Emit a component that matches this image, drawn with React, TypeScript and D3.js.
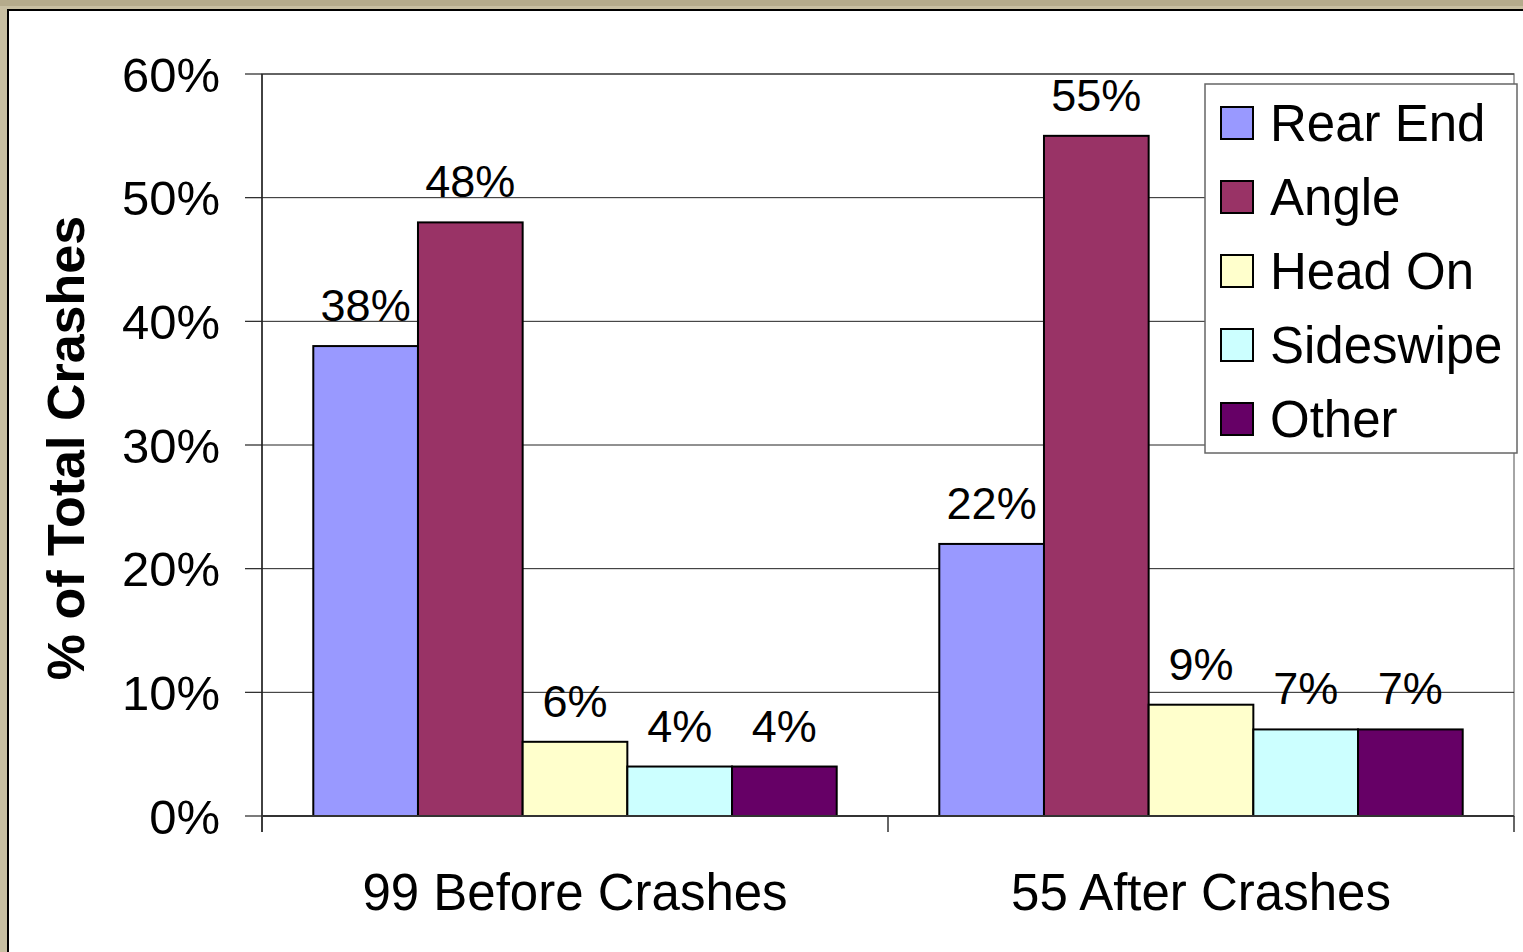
import React from "react";
import * as d3 from "d3";

const categories = ["99 Before Crashes", "55 After Crashes"];
const seriesNames = ["Rear End", "Angle", "Head On", "Sideswipe", "Other"];
const seriesColors = ["#9999FF", "#993366", "#FFFFCC", "#CCFFFF", "#660066"];
const beforeValues = [38, 48, 6, 4, 4];
const afterValues = [22, 55, 9, 7, 7];
const yTicks = [0, 10, 20, 30, 40, 50, 60];

const FONT = "'Liberation Sans', Arial, sans-serif";

export default function App() {
  const W = 1523, H = 952;
  const left = 262, right = 1514, top = 74, bottom = 816;
  const y = d3.scaleLinear().domain([0, 60]).range([bottom, top]);
  const x0 = d3.scaleBand().domain(categories).range([left, right]).paddingInner(0).paddingOuter(0);
  const x1 = d3.scaleBand().domain(seriesNames).range([0, x0.bandwidth()]).paddingInner(0).paddingOuter(0.49);
  const values = [beforeValues, afterValues];

  return (
    <svg width={W} height={H} style={{ position: "absolute", left: 0, top: 0 }} fontFamily={FONT}>
      <rect x={0} y={0} width={W} height={H} fill="#C8BFA2" />
      <rect x={0} y={0} width={W} height={6} fill="#B5AB8C" />
      <rect x={8} y={10} width={W} height={H} fill="#FFFFFF" stroke="#000" strokeWidth={2} />
      <rect x={left} y={top} width={right - left} height={bottom - top} fill="none" stroke="#888" strokeWidth={1.5} />
      {yTicks.map((t) => (
        <g key={t}>
          <line x1={left} x2={right} y1={y(t)} y2={y(t)} stroke="#222" strokeWidth={1} />
          <line x1={245} x2={left} y1={y(t)} y2={y(t)} stroke="#222" strokeWidth={1.2} />
          <text x={220} y={y(t)} dy="0.36em" textAnchor="end" fontSize={49} fill="#000">{t}%</text>
        </g>
      ))}
      {categories.map((c, ci) => {
        const gx = x0(c)!;
        return (
          <g key={c}>
            {values[ci].map((v, si) => {
              const bx = gx + x1(seriesNames[si])!;
              const bw = x1.bandwidth();
              return (
                <g key={si}>
                  <rect x={bx} y={y(v)} width={bw} height={bottom - y(v)} fill={seriesColors[si]} stroke="#000" strokeWidth={2} />
                  <text x={bx + bw / 2} y={y(v) - 25} textAnchor="middle" fontSize={45} fill="#000">{v}%</text>
                </g>
              );
            })}
            <text x={gx + x0.bandwidth() / 2} y={892} dy="0.36em" textAnchor="middle" fontSize={51} fill="#000">{c}</text>
          </g>
        );
      })}
      <line x1={left} x2={left} y1={top} y2={bottom + 16} stroke="#222" strokeWidth={1.5} />
      <line x1={left} x2={right} y1={bottom} y2={bottom} stroke="#333" strokeWidth={2} />
      {[left, x0(categories[1])!, right].map((tx, i) => (
        <line key={i} x1={tx} x2={tx} y1={bottom} y2={bottom + 16} stroke="#333" strokeWidth={1.5} />
      ))}
      <text transform={`translate(65,448) rotate(-90)`} dy="0.36em" textAnchor="middle" fontSize={52} fontWeight="bold" fill="#000">% of Total Crashes</text>
      <rect x={1205} y={84} width={312} height={369} fill="#fff" stroke="#666" strokeWidth={1.5} />
      {seriesNames.map((s, i) => {
        const cy = 123 + i * 74;
        return (
          <g key={s}>
            <rect x={1221} y={cy - 16} width={32} height={32} fill={seriesColors[i]} stroke="#000" strokeWidth={2} />
            <text x={1270} y={cy} dy="0.36em" fontSize={51} fill="#000">{s}</text>
          </g>
        );
      })}
    </svg>
  );
}
